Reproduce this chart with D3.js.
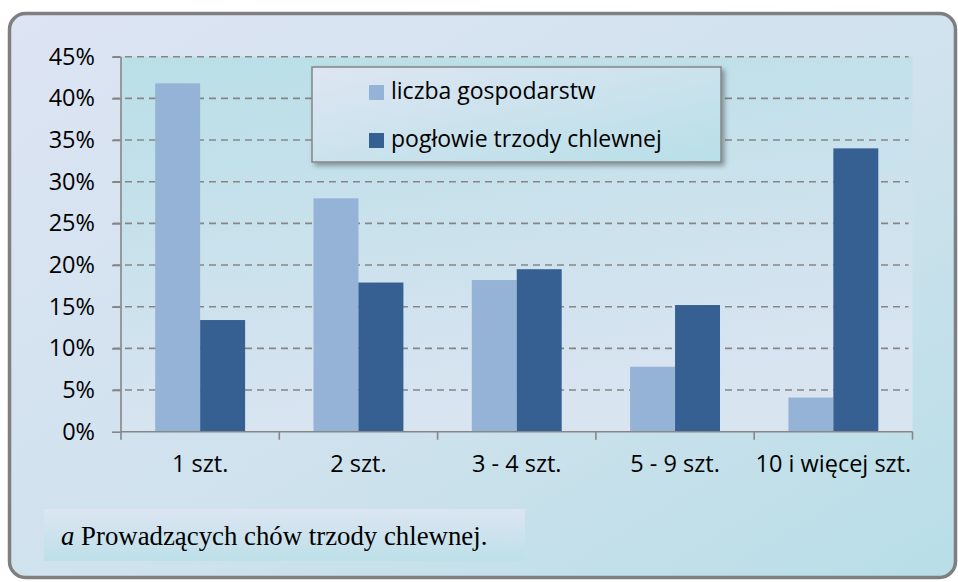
<!DOCTYPE html>
<html lang="pl">
<head>
<meta charset="UTF-8">
<title>Pogłowie trzody chlewnej</title>
<script src="https://d3js.org/d3.v7.min.js"></script>
<style>
  body { margin: 0; background: #fff; }
</style>
</head>
<body>
<div id="chart"></div>
<script>
var categories = ['1 szt.', '2 szt.', '3 - 4 szt.', '5 - 9 szt.', '10 i więcej szt.'];
var seriesNames = ['liczba gospodarstw', 'pogłowie trzody chlewnej'];
var gospodarstwa = [41.8, 28.0, 18.2, 7.8, 4.1];
var poglowie = [13.4, 17.9, 19.5, 15.2, 34.0];
var yTicks = [0, 5, 10, 15, 20, 25, 30, 35, 40, 45];
var colors = ['#95b3d7', '#366092'];

var width = 958, height = 582;
var plot = { left: 121, right: 912.5, top: 56.7, bottom: 431.7 };

var svg = d3.select('#chart').append('svg')
  .attr('width', width).attr('height', height);

var defs = svg.append('defs');
var bg = defs.append('linearGradient').attr('id', 'bg')
  .attr('x1', 0).attr('y1', 0).attr('x2', 1).attr('y2', 1);
bg.append('stop').attr('offset', '0%').attr('stop-color', '#dde4f4');
bg.append('stop').attr('offset', '55%').attr('stop-color', '#cfe2ed');
bg.append('stop').attr('offset', '100%').attr('stop-color', '#b8dee7');

var pg = defs.append('linearGradient').attr('id', 'pg')
  .attr('x1', 0).attr('y1', 0).attr('x2', 0.3).attr('y2', 1);
pg.append('stop').attr('offset', '0%').attr('stop-color', '#b9dfe7');
pg.append('stop').attr('offset', '100%').attr('stop-color', '#d9e4f1');

var lg = defs.append('linearGradient').attr('id', 'lg')
  .attr('x1', 0).attr('y1', 0).attr('x2', 1).attr('y2', 1);
lg.append('stop').attr('offset', '0%').attr('stop-color', '#dee6f3');
lg.append('stop').attr('offset', '100%').attr('stop-color', '#b8dfe7');

var fg = defs.append('linearGradient').attr('id', 'fg')
  .attr('x1', 0).attr('y1', 0).attr('x2', 0).attr('y2', 1);
fg.append('stop').attr('offset', '0%').attr('stop-color', '#dce5f2');
fg.append('stop').attr('offset', '100%').attr('stop-color', '#bde0e9');

var sh = defs.append('filter').attr('id', 'shadow')
  .attr('x', '-10%').attr('y', '-10%').attr('width', '130%').attr('height', '140%');
sh.append('feDropShadow').attr('dx', 3).attr('dy', 3).attr('stdDeviation', 2.5)
  .attr('flood-color', '#000').attr('flood-opacity', 0.35);

// outer frame
svg.append('rect')
  .attr('x', 9.5).attr('y', 13.5).attr('width', 946).attr('height', 564)
  .attr('rx', 16).attr('ry', 16)
  .attr('fill', 'url(#bg)').attr('stroke', '#7f7f7f').attr('stroke-width', 3.5);

// plot area
svg.append('rect')
  .attr('x', plot.left).attr('y', plot.top)
  .attr('width', plot.right - plot.left).attr('height', plot.bottom - plot.top)
  .attr('fill', 'url(#pg)');

var x0 = d3.scaleBand().domain(categories).range([plot.left, plot.right]);
var groupW = x0.bandwidth() * 0.568;
var x1 = d3.scaleBand().domain(seriesNames).range([0, groupW]);
var y = d3.scaleLinear().domain([0, 45]).range([plot.bottom, plot.top]);

// gridlines
svg.append('g').selectAll('line').data(yTicks.slice(1)).enter().append('line')
  .attr('x1', plot.left - 8).attr('x2', plot.right - 4)
  .attr('y1', function(d) { return y(d); }).attr('y2', function(d) { return y(d); })
  .attr('stroke', '#868686').attr('stroke-width', 1.6).attr('stroke-dasharray', '7,5');

// bars
var data = [gospodarstwa, poglowie];
var groups = svg.append('g').selectAll('g').data(categories).enter().append('g')
  .attr('transform', function(d) {
    return 'translate(' + (x0(d) + (x0.bandwidth() - groupW) / 2) + ',0)';
  });
groups.selectAll('rect')
  .data(function(d, i) { return seriesNames.map(function(s, j) { return { s: s, v: data[j][i], j: j }; }); })
  .enter().append('rect')
  .attr('x', function(d) { return x1(d.s); })
  .attr('width', x1.bandwidth())
  .attr('y', function(d) { return y(d.v); })
  .attr('height', function(d) { return y(0) - y(d.v); })
  .attr('fill', function(d) { return colors[d.j]; });

// axes
var yAxis = svg.append('g').attr('transform', 'translate(' + plot.left + ',0)')
  .call(d3.axisLeft(y).tickValues(yTicks).tickSize(9).tickPadding(17)
    .tickFormat(function(d) { return d + '%'; }));
var xAxis = svg.append('g').attr('transform', 'translate(0,' + plot.bottom + ')')
  .call(d3.axisBottom(x0).tickSize(0).tickPadding(24));
// boundary ticks between categories
var bounds = categories.map(function(c) { return x0(c); }).concat([plot.right]);
xAxis.selectAll('.bound').data(bounds).enter().append('line')
  .attr('class', 'bound')
  .attr('x1', function(d) { return d; }).attr('x2', function(d) { return d; })
  .attr('y1', 0).attr('y2', 8);

[yAxis, xAxis].forEach(function(a) {
  a.attr('font-size', null).attr('font-family', null);
  a.selectAll('path').attr('stroke', '#868686').attr('stroke-width', 1.6);
  a.selectAll('line').attr('stroke', '#868686').attr('stroke-width', 1.6);
  a.selectAll('text').attr('fill', '#000')
    .style('font-family', '"Open Sans", sans-serif').style('font-size', '23.5px');
});
xAxis.select('.domain').attr('d', 'M' + plot.left + ',0H' + plot.right);
yAxis.select('.domain').attr('d', 'M0,' + plot.bottom + 'V' + plot.top);

// legend
var legend = svg.append('g').attr('transform', 'translate(312,67)');
legend.append('rect').attr('width', 409).attr('height', 95)
  .attr('fill', 'url(#lg)').attr('stroke', '#858585').attr('stroke-width', 1.5)
  .attr('filter', 'url(#shadow)');
var items = legend.selectAll('.item').data(seriesNames).enter().append('g')
  .attr('class', 'item')
  .attr('transform', function(d, i) { return 'translate(57,' + (18 + i * 48) + ')'; });
items.append('rect').attr('width', 15).attr('height', 15)
  .attr('fill', function(d, i) { return colors[i]; });
items.append('text').attr('x', 22).attr('y', 14)
  .style('font-family', '"Open Sans", sans-serif').style('font-size', '23px')
  .attr('fill', '#000')
  .text(function(d) { return d; });

// footnote
svg.append('rect').attr('x', 44).attr('y', 509).attr('width', 481).attr('height', 52)
  .attr('fill', 'url(#fg)');
var note = svg.append('text').attr('x', 61).attr('y', 545)
  .style('font-family', '"Liberation Serif", serif').style('font-size', '26.8px')
  .attr('fill', '#000');
note.append('tspan').style('font-style', 'italic').text('a');
note.append('tspan').text(' Prowadzących chów trzody chlewnej.');
</script>
</body>
</html>
